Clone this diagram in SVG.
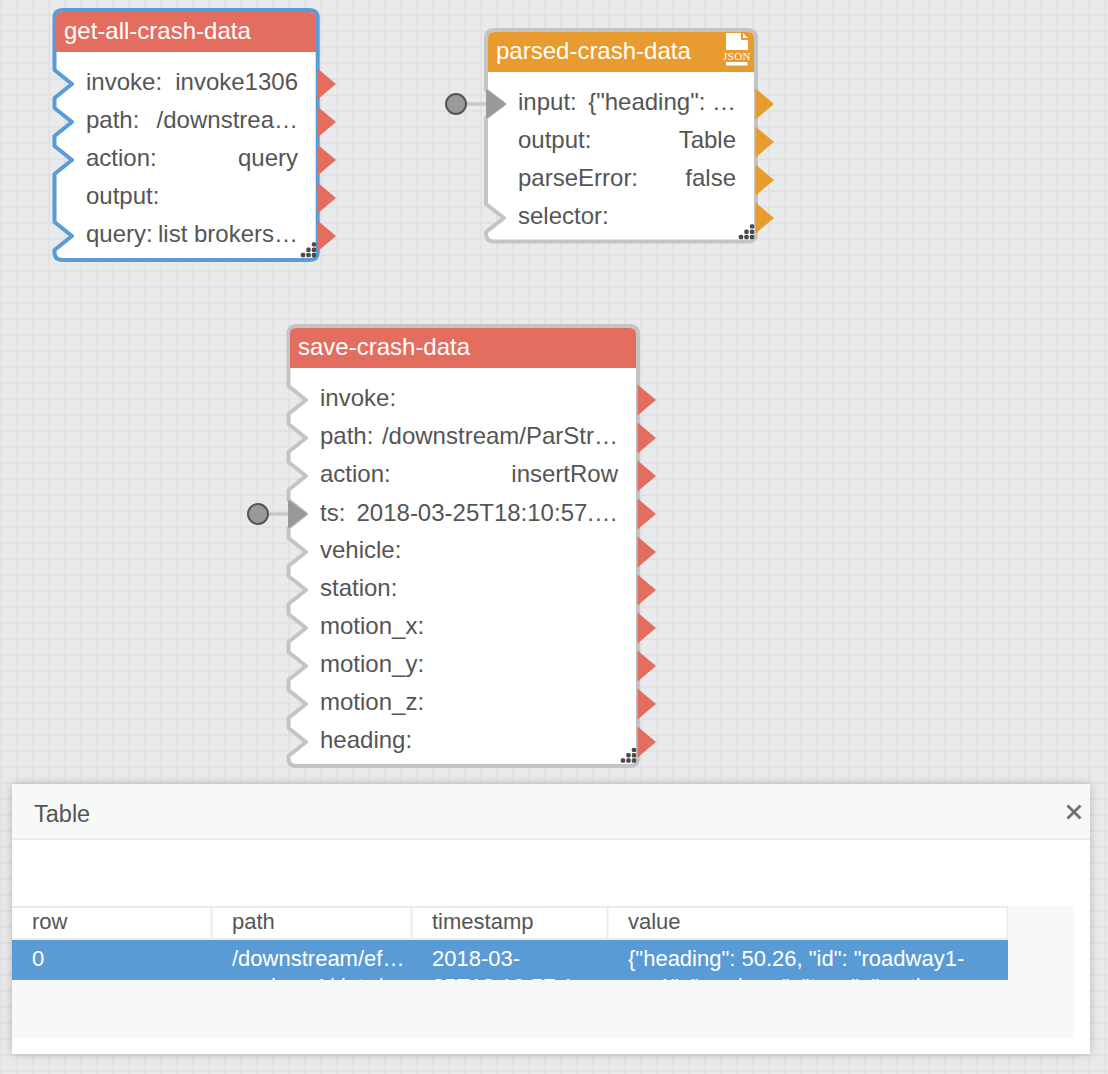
<svg xmlns="http://www.w3.org/2000/svg" width="1108" height="1074" viewBox="0 0 1108 1074">
<style>
text{font-family:"Liberation Sans",Arial,sans-serif;font-size:24px;fill:#555}
.t{fill:#fff}
.v{text-anchor:end}
.c{font-size:22px}
.w{font-size:22px;fill:#fff}
.red{fill:#e36e60}
.org{fill:#e89b2e}
.box{fill:#fff;stroke:#c4c4c4;stroke-width:4;stroke-linejoin:round}
.sel{stroke:#5b9bd5}
.wire{stroke:#c8c8c8;stroke-width:3.5}
.pin{fill:#999;stroke:#555;stroke-width:2}
.hit{fill:#999;stroke:#999;stroke-width:2;stroke-linejoin:round}
.hd{fill:#f7f9f8}
.bd{fill:#ebebeb}
</style>
<defs>
<pattern id="grid" width="16" height="16" patternUnits="userSpaceOnUse">
<rect width="16" height="16" fill="#e9eaec"/>
<rect width="2" height="16" fill="#e1e2e4"/>
<rect y="14" width="16" height="2" fill="#e1e2e4"/>
</pattern>
<polygon id="out" points="0,-15.5 18.5,0 0,15.5"/>
<g id="grip" fill="#4a4a4a">
<rect x="-13.200" y="-2.200" width="4.400" height="4.400" rx="1.500"/><rect x="-7.700" y="-2.200" width="4.400" height="4.400" rx="1.500"/><rect x="-2.200" y="-2.200" width="4.400" height="4.400" rx="1.500"/>
<rect x="-7.700" y="-7.500" width="4.400" height="4.400" rx="1.500"/><rect x="-2.200" y="-7.500" width="4.400" height="4.400" rx="1.500"/><rect x="-2.200" y="-12.800" width="4.400" height="4.400" rx="1.500"/>
</g>
<filter id="sh" x="-5%" y="-10%" width="110%" height="120%"><feDropShadow dx="0" dy="0" stdDeviation="5" flood-color="#000" flood-opacity="0.22"/></filter>
<clipPath id="rowclip"><rect x="12" y="940" width="996" height="40"/></clipPath>
</defs>
<rect id="canvas" width="1108" height="1074" fill="url(#grid)"/>

<g id="connectors">
<line class="wire" x1="466" y1="104" x2="488" y2="104"/>
<circle class="pin" cx="456" cy="104" r="10"/>
<line class="wire" x1="268" y1="514" x2="290" y2="514"/>
<circle class="pin" cx="258" cy="514" r="10"/>
</g>

<g id="get-all-crash-data">
<path class="box sel" d="M62.5,10H309.7Q317.7,10 317.7,18V252Q317.7,260 309.7,260H62.5Q54.5,260 54.5,252V250L72,236L54.5,222V174L72,160L54.5,146V136L72,122L54.5,108V98L72,84L54.5,70V18Q54.5,10 62.5,10Z"/>
<path class="red" d="M56,52V18Q56,12 62,12H310Q316,12 316,18V52Z"/>
<text class="t" x="64" y="39">get-all-crash-data</text>
<text x="86" y="90">invoke:</text><text class="v" x="298" y="90">invoke1306</text>
<text x="86" y="128">path:</text><text class="v" x="298" y="128">/downstrea…</text>
<text x="86" y="166">action:</text><text class="v" x="298" y="166">query</text>
<text x="86" y="204">output:</text>
<text x="86" y="242">query:</text><text class="v" x="298" y="242">list brokers…</text>
<use href="#out" class="red" x="317.5" y="84"/><use href="#out" class="red" x="317.5" y="122"/><use href="#out" class="red" x="317.5" y="160"/><use href="#out" class="red" x="317.5" y="198"/><use href="#out" class="red" x="317.5" y="236"/>
<use href="#grip" x="314" y="255"/>
</g>

<g id="parsed-crash-data">
<path class="box" d="M494,30H748Q756,30 756,38V233.500Q756,241.500 748,241.500H494Q486,241.500 486,233.500V232L504,218L486,204V118L504,104L486,90V38Q486,30 494,30Z"/>
<path class="org" d="M488,72V38Q488,32 494,32H748Q754,32 754,38V72Z"/>
<polygon class="hit" points="487,91 505,104 487,117"/>
<text class="t" x="496" y="59">parsed-crash-data</text>
<path fill="#fff" d="M726,33H741V40H748V50H726ZM743,33L748,38H743Z"/>
<text class="t" x="737" y="60" style="font-family:'Liberation Serif',serif;font-size:11px;text-anchor:middle;letter-spacing:.4px">JSON</text>
<rect fill="#fff" x="726" y="62" width="21.500" height="3.500"/>
<text x="518" y="110">input:</text><text class="v" x="736" y="110">{"heading": …</text>
<text x="518" y="148">output:</text><text class="v" x="736" y="148">Table</text>
<text x="518" y="186">parseError:</text><text class="v" x="736" y="186">false</text>
<text x="518" y="224">selector:</text>
<use href="#out" class="org" x="755.500" y="104"/><use href="#out" class="org" x="755.500" y="142"/><use href="#out" class="org" x="755.500" y="180"/><use href="#out" class="org" x="755.500" y="218"/>
<use href="#grip" x="752" y="237"/>
</g>

<g id="save-crash-data">
<path class="box" d="M296.500,326H630Q638,326 638,334V758Q638,766 630,766H296.500Q288.500,766 288.500,758V756L306,742L288.500,728V718L306,704L288.500,690V680L306,666L288.500,652V642L306,628L288.500,614V604L306,590L288.500,576V566L306,552L288.500,538V528L306,514L288.500,500V490L306,476L288.500,462V452L306,438L288.500,424V414L306,400L288.500,386V334Q288.500,326 296.500,326Z"/>
<path class="red" d="M290,368V334Q290,328 296,328H630Q636,328 636,334V368Z"/>
<polygon class="hit" points="289,501 306,514 289,527"/>
<text class="t" x="298" y="355">save-crash-data</text>
<text x="320" y="406">invoke:</text>
<text x="320" y="444">path:</text><text class="v" x="618" y="444">/downstream/ParStr…</text>
<text x="320" y="482">action:</text><text class="v" x="618" y="482">insertRow</text>
<text x="320" y="520.500">ts:</text><text class="v" x="618" y="520.500">2018-03-25T18:10:57.…</text>
<text x="320" y="558">vehicle:</text>
<text x="320" y="596">station:</text>
<text x="320" y="634">motion_x:</text>
<text x="320" y="672">motion_y:</text>
<text x="320" y="710">motion_z:</text>
<text x="320" y="748">heading:</text>
<use href="#out" class="red" x="637.500" y="400"/><use href="#out" class="red" x="637.500" y="438"/><use href="#out" class="red" x="637.500" y="476"/><use href="#out" class="red" x="637.500" y="514"/><use href="#out" class="red" x="637.500" y="552"/><use href="#out" class="red" x="637.500" y="590"/><use href="#out" class="red" x="637.500" y="628"/><use href="#out" class="red" x="637.500" y="666"/><use href="#out" class="red" x="637.500" y="704"/><use href="#out" class="red" x="637.500" y="742"/>
<use href="#grip" x="634" y="760.500"/>
</g>

<g id="table-dialog">
<rect x="12" y="784" width="1078" height="270" fill="#fff" filter="url(#sh)"/>
<rect class="hd" x="12" y="784" width="1078" height="54"/>
<rect class="bd" x="12" y="838" width="1078" height="2"/>
<text x="34" y="822" style="font-size:23.5px">Table</text>
<path d="M1067.500,805.500L1080.500,818.500M1080.500,805.500L1067.500,818.500" stroke="#707070" stroke-width="2.800" fill="none"/>
<rect class="hd" x="12" y="906" width="1062" height="132"/>
<rect fill="#fff" x="12" y="906" width="996" height="34"/>
<rect class="bd" x="12" y="906" width="996" height="2"/>
<rect class="bd" x="12" y="938" width="996" height="2"/>
<rect class="bd" x="210.500" y="906" width="2" height="34"/>
<rect class="bd" x="410.500" y="906" width="2" height="34"/>
<rect class="bd" x="606.500" y="906" width="2" height="34"/>
<rect class="bd" x="1006.500" y="906" width="1.500" height="34"/>
<text class="c" x="32" y="929">row</text>
<text class="c" x="232" y="929">path</text>
<text class="c" x="432" y="929">timestamp</text>
<text class="c" x="628" y="929">value</text>
<rect fill="#5b9bd5" x="12" y="940" width="996" height="40"/>
<g clip-path="url(#rowclip)">
<text class="w" x="32" y="966">0</text>
<text class="w" x="232" y="966">/downstream/ef…</text>
<text class="w" x="232" y="994">roadway1/data/r…</text>
<text class="w" x="432" y="966">2018-03-</text>
<text class="w" x="432" y="994">25T18:10:57.1</text>
<text class="w" x="628" y="966">{"heading": 50.26, "id": "roadway1-</text>
<text class="w" x="628" y="994">car1", "roadway", "type": "motion</text>
</g>
</g>
</svg>
